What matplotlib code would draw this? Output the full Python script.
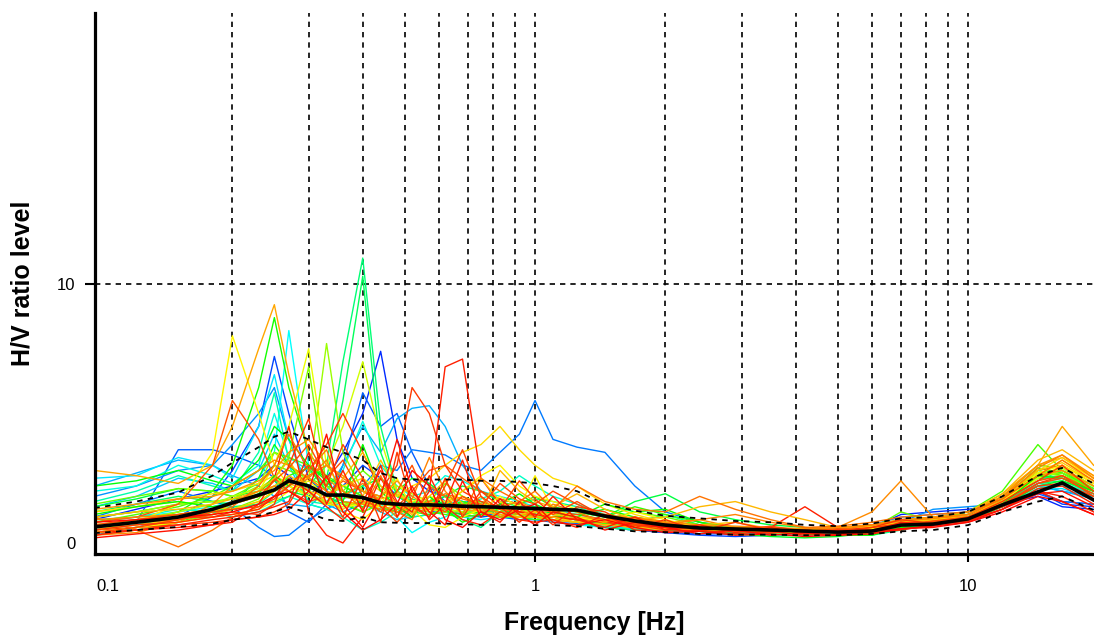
import numpy as np
import matplotlib
matplotlib.use("Agg")
import matplotlib.pyplot as plt
import matplotlib.transforms as mtransforms
from matplotlib.colors import hsv_to_rgb

# frequency samples [Hz]
freq = [0.096, 0.12, 0.15, 0.18, 0.2, 0.23, 0.25, 0.27, 0.3,
        0.33, 0.36, 0.4, 0.44, 0.48, 0.52, 0.57, 0.62, 0.68, 0.75, 0.83, 0.92,
        1.0, 1.1, 1.25, 1.45, 1.7, 2.0, 2.4, 2.9, 3.5, 4.2,
        5.0, 6.0, 7.0, 8.3, 10.0, 12.0, 14.5, 16.5, 19.5]

# average H/V curve and its +/- one standard deviation curves
hv_mean = [0.62, 0.8, 1.0, 1.3, 1.55, 1.85, 2.05, 2.4, 2.2,
           1.85, 1.85, 1.75, 1.55, 1.5, 1.47, 1.47, 1.45, 1.42, 1.4, 1.38, 1.35,
           1.33, 1.3, 1.27, 1.04, 0.85, 0.69, 0.58, 0.54, 0.5, 0.46,
           0.42, 0.46, 0.69, 0.73, 0.93, 1.47, 1.97, 2.32, 1.66]
hv_upper = [1.35, 1.6, 1.95, 2.6, 3.1, 3.7, 4.1, 4.3, 4.0,
            3.7, 3.5, 3.2, 2.7, 2.5, 2.45, 2.45, 2.45, 2.45, 2.4, 2.4, 2.35,
            2.3, 2.2, 2.0, 1.5, 1.25, 1.05, 0.95, 0.85, 0.8, 0.7,
            0.65, 0.75, 0.95, 1.0, 1.2, 1.8, 2.6, 2.9, 2.3]
hv_lower = [0.38, 0.5, 0.62, 0.75, 0.89, 1.05, 1.2, 1.39, 1.16,
            0.9, 0.85, 1.0, 0.8, 0.78, 0.77, 0.77, 0.75, 0.72, 0.7, 0.7, 0.7,
            0.69, 0.69, 0.65, 0.55, 0.45, 0.42, 0.35, 0.32, 0.32, 0.3,
            0.3, 0.35, 0.45, 0.5, 0.69, 1.2, 1.6, 1.8, 1.27]

# H/V curves of the single time windows
w01 = [0.9, 1.3, 1.7, 2.0, 2.2, 2.5, 3.0, 2.6, 1.8,
       2.5, 3.5, 5.0, 7.4, 4.0, 2.5, 2.0, 1.8, 1.6, 1.5, 1.3, 1.2,
       1.1, 1.0, 0.9, 0.7, 0.6, 0.55, 0.5, 0.45, 0.5, 0.45,
       0.5, 0.6, 1.1, 1.2, 1.3, 1.5, 1.8, 1.4, 1.3]
w02 = [0.3, 0.6, 1.0, 1.8, 2.8, 4.5, 7.2, 5.0, 2.5,
       1.8, 2.2, 3.0, 2.5, 1.8, 1.5, 1.2, 1.3, 1.1, 1.0, 1.1, 1.0,
       1.0, 0.9, 0.8, 0.6, 0.5, 0.4, 0.3, 0.25, 0.3, 0.4,
       0.5, 0.65, 0.9, 1.0, 1.2, 1.6, 2.0, 1.5, 1.4]
w03 = [0.5, 0.8, 3.6, 3.6, 3.4, 3.0, 2.5, 1.2, 0.8,
       1.5, 3.0, 5.8, 4.5, 5.0, 3.5, 2.2, 1.6, 1.3, 1.2, 1.0, 0.9,
       0.9, 0.8, 0.75, 0.6, 0.5, 0.4, 0.35, 0.35, 0.4, 0.4,
       0.45, 0.55, 0.8, 0.9, 1.1, 1.4, 1.9, 1.6, 1.5]
w04 = [1.0, 1.5, 2.0, 1.6, 1.4, 0.6, 0.25, 0.3, 0.9,
       1.3, 1.8, 2.2, 3.0, 2.8, 3.6, 3.5, 3.4, 3.0, 2.8, 3.5, 4.2,
       5.5, 4.0, 3.7, 3.5, 2.2, 1.2, 0.8, 0.6, 0.5, 0.5,
       0.55, 0.7, 1.0, 1.1, 1.2, 1.5, 2.0, 1.6, 1.5]
w05 = [1.8, 2.2, 2.8, 3.0, 3.8, 5.0, 6.0, 4.0, 2.0,
       1.5, 1.2, 1.5, 1.4, 1.3, 1.6, 1.4, 1.3, 1.2, 1.3, 1.2, 1.1,
       1.1, 1.0, 0.9, 0.75, 0.6, 0.55, 0.5, 0.5, 0.5, 0.45,
       0.5, 0.6, 0.8, 1.3, 1.4, 1.5, 2.2, 2.0, 1.8]
w06 = [2.2, 2.7, 3.2, 3.0, 2.6, 2.2, 1.8, 1.5, 1.4,
       2.0, 3.0, 4.5, 3.5, 4.8, 5.2, 5.3, 4.5, 3.0, 2.0, 1.7, 1.5,
       1.3, 1.2, 1.0, 0.8, 0.65, 0.6, 0.5, 0.45, 0.5, 0.5,
       0.5, 0.6, 0.75, 0.85, 1.0, 1.6, 2.2, 2.0, 1.7]
w07 = [1.4, 1.8, 2.5, 2.3, 2.0, 2.8, 4.2, 3.0, 1.5,
       1.3, 1.6, 1.5, 1.2, 0.9, 1.0, 1.1, 1.3, 1.2, 1.1, 1.0, 1.2,
       1.1, 1.0, 0.9, 0.7, 0.6, 0.5, 0.45, 0.45, 0.4, 0.4,
       0.45, 0.5, 0.65, 0.8, 0.95, 1.5, 2.3, 2.2, 1.9]
w08 = [2.5, 2.6, 3.3, 3.0, 2.5, 4.5, 6.5, 4.0, 2.0,
       1.5, 1.8, 1.6, 1.4, 1.2, 1.3, 1.4, 1.2, 1.0, 0.9, 1.0, 1.0,
       0.9, 0.9, 0.8, 0.65, 0.55, 0.5, 0.45, 0.4, 0.4, 0.4,
       0.45, 0.5, 0.7, 0.8, 0.9, 1.4, 2.1, 2.1, 1.7]
w09 = [0.9, 1.0, 1.2, 1.4, 1.6, 2.5, 3.5, 8.2, 3.0,
       2.0, 1.8, 2.2, 1.5, 1.0, 0.4, 0.8, 1.0, 1.4, 1.5, 1.3, 1.1,
       1.0, 0.8, 0.7, 0.6, 0.5, 0.5, 0.45, 0.35, 0.3, 0.3,
       0.35, 0.45, 0.6, 0.7, 0.9, 1.5, 2.3, 2.5, 2.1]
w10 = [2.0, 2.2, 3.0, 2.6, 2.3, 3.0, 5.0, 3.3, 2.8,
       2.2, 2.8, 4.7, 3.0, 2.2, 1.8, 2.0, 2.6, 2.4, 2.0, 1.8, 1.6,
       1.4, 1.3, 1.1, 0.9, 0.7, 0.55, 0.5, 0.45, 0.45, 0.45,
       0.5, 0.55, 0.7, 0.8, 0.95, 1.5, 2.2, 2.2, 1.8]
w11 = [0.8, 1.0, 1.3, 1.2, 1.0, 1.2, 1.5, 1.8, 1.5,
       1.3, 1.0, 0.5, 0.8, 1.2, 1.5, 1.3, 1.6, 1.5, 1.7, 2.0, 2.6,
       2.2, 1.8, 1.5, 1.1, 0.8, 0.7, 0.6, 0.5, 0.5, 0.5,
       0.5, 0.55, 0.7, 0.8, 0.9, 1.4, 2.1, 2.3, 1.9]
w12 = [1.6, 2.0, 2.6, 2.2, 2.0, 3.5, 5.8, 3.2, 1.6,
       1.5, 1.7, 2.0, 1.8, 1.5, 1.4, 1.6, 1.8, 1.6, 1.5, 1.4, 1.3,
       1.2, 1.1, 1.0, 0.9, 0.8, 0.6, 0.5, 0.45, 0.4, 0.4,
       0.4, 0.5, 0.7, 0.8, 1.0, 1.6, 2.5, 2.6, 2.0]
w13 = [0.5, 0.7, 1.0, 1.2, 1.3, 1.5, 2.0, 2.2, 1.8,
       1.5, 1.4, 1.6, 1.3, 1.2, 1.0, 1.1, 1.2, 0.9, 0.6, 1.2, 1.5,
       1.7, 1.6, 1.4, 1.0, 0.8, 1.1, 0.7, 0.5, 0.45, 0.4,
       0.4, 0.3, 0.5, 0.75, 0.95, 1.5, 2.4, 2.8, 2.2]
w14 = [0.6, 0.8, 1.0, 1.2, 1.4, 1.5, 1.6, 1.8, 2.2,
       3.0, 7.0, 11.0, 4.5, 2.0, 1.6, 1.4, 1.3, 1.2, 1.2, 1.1, 1.0,
       1.0, 0.9, 0.8, 0.6, 0.5, 0.5, 0.45, 0.4, 0.4, 0.4,
       0.4, 0.45, 0.6, 0.7, 0.9, 1.5, 2.3, 2.4, 1.9]
w15 = [1.2, 1.5, 1.8, 1.6, 1.5, 1.8, 2.2, 2.5, 2.0,
       2.5, 5.5, 10.3, 3.5, 1.8, 1.5, 1.6, 1.5, 1.3, 1.2, 1.2, 1.1,
       1.1, 1.0, 0.9, 0.7, 0.6, 0.55, 0.5, 0.45, 0.45, 0.45,
       0.5, 0.5, 0.65, 0.8, 1.0, 1.6, 2.5, 2.5, 2.0]
w16 = [1.4, 1.7, 2.1, 2.0, 1.8, 2.0, 2.4, 2.0, 1.8,
       1.6, 1.9, 2.2, 2.5, 2.0, 1.7, 1.5, 1.8, 2.2, 2.0, 1.6, 1.4,
       1.4, 1.3, 1.2, 1.0, 1.6, 1.9, 1.2, 0.9, 0.7, 0.6,
       0.5, 0.55, 0.7, 0.85, 1.0, 1.6, 2.6, 2.7, 2.1]
w17 = [0.4, 0.6, 0.8, 1.2, 1.5, 2.5, 3.8, 3.0, 2.2,
       1.8, 1.5, 1.2, 1.5, 2.0, 2.5, 2.3, 1.8, 1.5, 1.6, 1.3, 1.1,
       1.1, 1.2, 1.0, 0.8, 0.7, 0.6, 0.45, 0.35, 0.25, 0.2,
       0.25, 0.4, 0.55, 0.7, 0.85, 1.4, 2.2, 2.4, 2.0]
w18 = [2.2, 2.4, 2.8, 2.4, 2.2, 3.2, 4.5, 4.0, 3.0,
       2.5, 2.0, 1.5, 1.3, 1.2, 1.4, 1.5, 1.6, 1.4, 1.3, 1.2, 1.1,
       1.0, 1.0, 1.1, 1.3, 1.0, 0.8, 0.7, 0.55, 0.5, 0.45,
       0.45, 0.5, 0.6, 0.8, 1.0, 1.7, 2.8, 2.6, 2.0]
w19 = [0.6, 0.8, 1.2, 2.0, 3.0, 6.0, 8.7, 6.0, 3.5,
       2.5, 2.2, 1.8, 1.4, 1.2, 1.3, 1.4, 1.2, 1.1, 1.2, 1.3, 1.2,
       1.1, 1.0, 0.9, 0.8, 0.7, 0.6, 0.55, 0.5, 0.45, 0.45,
       0.45, 0.5, 0.7, 0.85, 1.0, 1.7, 2.9, 2.7, 2.0]
w20 = [1.0, 1.2, 1.5, 1.6, 1.7, 1.8, 2.0, 2.6, 2.9,
       2.0, 1.6, 1.4, 1.6, 1.5, 1.2, 1.1, 1.3, 1.6, 1.4, 1.2, 1.5,
       1.8, 1.4, 1.2, 1.0, 1.4, 1.1, 0.8, 0.6, 0.5, 0.45,
       0.5, 0.6, 0.8, 1.0, 1.1, 1.8, 3.0, 2.9, 2.2]
w21 = [0.8, 1.1, 1.4, 1.8, 2.2, 2.8, 3.5, 3.3, 3.0,
       2.6, 2.2, 1.8, 1.6, 1.4, 1.3, 1.2, 1.1, 1.0, 1.1, 1.0, 1.0,
       0.9, 1.0, 0.9, 0.75, 0.6, 0.55, 0.5, 0.5, 0.45, 0.45,
       0.5, 0.6, 0.75, 0.9, 1.2, 2.0, 3.8, 2.8, 2.0]
w22 = [1.5, 1.8, 2.1, 2.0, 1.8, 2.3, 3.0, 2.8, 2.5,
       2.2, 2.0, 2.8, 2.2, 1.8, 1.6, 1.5, 1.4, 1.5, 1.6, 1.4, 1.3,
       1.2, 1.1, 1.0, 0.9, 1.2, 1.0, 0.7, 0.55, 0.5, 0.5,
       0.5, 0.55, 1.2, 0.85, 1.0, 1.7, 2.7, 2.8, 2.1]
w23 = [0.3, 0.5, 0.8, 1.1, 1.3, 1.7, 2.5, 3.3, 6.8,
       2.2, 1.6, 1.2, 1.5, 1.4, 1.3, 1.6, 2.3, 1.8, 1.5, 1.3, 1.2,
       1.1, 1.0, 0.9, 0.8, 0.7, 0.6, 0.55, 0.5, 0.45, 0.45,
       0.45, 0.5, 0.65, 0.8, 0.95, 1.6, 2.6, 2.7, 2.0]
w24 = [1.0, 1.2, 1.5, 1.6, 1.7, 2.2, 3.5, 3.0, 2.5,
       7.7, 3.5, 2.0, 1.6, 1.4, 1.5, 1.3, 1.2, 1.2, 1.1, 1.0, 1.1,
       1.0, 1.0, 0.9, 0.8, 0.7, 0.6, 0.5, 0.5, 0.5, 0.45,
       0.45, 0.5, 0.7, 0.85, 1.0, 1.7, 2.7, 2.6, 2.0]
w25 = [0.6, 0.9, 1.2, 1.5, 1.8, 2.1, 2.5, 2.2, 1.9,
       1.6, 1.5, 1.5, 1.8, 2.2, 1.9, 1.6, 1.3, 1.2, 1.3, 1.4, 1.3,
       1.2, 1.1, 1.0, 0.9, 0.8, 0.65, 0.55, 0.5, 0.5, 0.5,
       0.5, 0.6, 0.75, 0.9, 1.0, 1.6, 2.5, 2.8, 2.2]
w26 = [1.2, 1.4, 1.6, 1.4, 1.3, 1.6, 2.0, 2.4, 2.6,
       3.0, 4.5, 7.0, 4.0, 2.0, 1.5, 1.3, 1.2, 1.3, 1.2, 1.1, 1.0,
       1.0, 0.9, 0.8, 0.7, 0.65, 0.6, 0.5, 0.5, 0.45, 0.45,
       0.45, 0.5, 0.65, 0.8, 1.0, 1.6, 2.6, 2.9, 2.2]
w27 = [0.7, 0.9, 1.1, 1.3, 1.5, 2.0, 3.0, 4.5, 7.5,
       3.0, 2.0, 1.6, 1.5, 1.4, 1.3, 1.4, 1.5, 1.3, 1.2, 1.1, 1.0,
       1.0, 0.9, 0.8, 0.7, 0.6, 0.55, 0.5, 0.45, 0.4, 0.4,
       0.45, 0.5, 0.65, 0.8, 1.0, 1.6, 2.5, 3.0, 2.4]
w28 = [0.5, 0.8, 1.5, 3.5, 8.0, 5.0, 3.0, 2.2, 1.8,
       1.5, 1.4, 1.5, 1.4, 1.3, 1.6, 1.8, 1.6, 2.0, 2.6, 3.0, 2.2,
       1.8, 1.6, 1.3, 1.0, 0.8, 0.65, 0.55, 0.5, 0.5, 0.45,
       0.5, 0.55, 0.7, 0.85, 1.0, 1.6, 2.6, 3.2, 2.5]
w29 = [1.2, 1.4, 1.7, 1.9, 2.0, 2.3, 2.6, 2.3, 2.0,
       1.8, 2.2, 2.5, 2.0, 1.8, 2.2, 2.5, 3.0, 3.5, 3.8, 4.5, 3.6,
       3.0, 2.5, 2.2, 1.5, 1.1, 0.8, 0.65, 0.55, 0.5, 0.5,
       0.5, 0.6, 0.75, 0.9, 1.0, 1.7, 2.8, 3.3, 2.6]
w30 = [0.4, 0.6, 0.9, 1.1, 1.3, 1.6, 2.0, 2.3, 2.5,
       2.0, 1.8, 1.6, 1.7, 1.9, 1.5, 1.3, 1.5, 1.8, 1.5, 1.3, 1.2,
       1.2, 1.1, 1.0, 0.9, 0.75, 0.65, 0.55, 0.5, 0.5, 0.5,
       0.5, 0.6, 0.8, 0.95, 1.1, 1.8, 3.0, 3.3, 2.5]
w31 = [2.8, 2.6, 2.3, 3.0, 4.5, 7.5, 9.2, 6.5, 3.5,
       2.5, 2.0, 1.6, 1.4, 1.3, 1.4, 1.6, 1.4, 1.3, 1.2, 1.1, 1.0,
       1.0, 0.9, 0.8, 0.7, 0.6, 0.55, 0.5, 0.5, 0.5, 0.5,
       0.5, 0.6, 0.75, 0.9, 1.1, 1.9, 3.0, 4.5, 3.0]
w32 = [0.3, 0.4, 0.8, 1.5, 2.2, 2.8, 3.2, 3.0, 2.5,
       2.0, 1.6, 1.5, 1.3, 1.2, 1.2, 1.3, 1.5, 1.4, 1.3, 1.2, 1.1,
       1.1, 1.0, 0.9, 0.8, 0.75, 0.8, 0.9, 0.6, 0.55, 0.55,
       0.6, 1.2, 2.4, 1.0, 1.0, 1.7, 2.6, 2.8, 2.2]
w33 = [1.0, 0.5, -0.15, 0.5, 1.0, 1.4, 1.8, 2.2, 2.6,
       3.0, 2.5, 2.0, 1.8, 1.5, 1.4, 1.6, 1.9, 1.7, 1.5, 1.3, 1.2,
       1.1, 1.0, 0.95, 0.9, 1.0, 0.8, 0.6, 0.55, 0.5, 0.5,
       0.5, 0.55, 0.7, 0.85, 1.0, 1.8, 2.8, 3.0, 2.3]
w34 = [0.8, 1.0, 1.5, 3.0, 5.5, 4.0, 2.5, 2.0, 1.6,
       1.8, 2.4, 2.0, 1.6, 1.4, 2.0, 2.8, 3.0, 2.5, 2.0, 1.7, 1.5,
       1.3, 1.2, 1.1, 0.9, 0.75, 0.65, 0.6, 0.55, 0.5, 0.5,
       0.5, 0.6, 0.75, 0.9, 1.0, 1.6, 2.4, 2.6, 2.0]
w35 = [0.5, 0.6, 0.7, 0.8, 0.9, 1.0, 1.2, 1.5, 2.8,
       3.8, 5.0, 3.5, 2.0, 3.0, 6.0, 5.0, 3.0, 2.0, 1.6, 1.4, 1.2,
       1.1, 1.0, 0.9, 0.8, 0.7, 0.6, 0.55, 0.5, 0.45, 0.5,
       0.5, 0.6, 0.75, 0.9, 1.0, 1.5, 2.2, 2.3, 1.8]
w36 = [0.4, 0.5, 0.6, 0.7, 0.8, 1.5, 2.5, 4.5, 1.2,
       0.3, 0.0, 1.0, 2.5, 1.5, 1.0, 2.0, 6.8, 7.1, 2.5, 1.5, 1.2,
       1.1, 1.0, 0.9, 0.8, 0.7, 0.6, 0.55, 0.5, 0.6, 1.4,
       0.6, 0.55, 0.7, 0.85, 0.95, 1.4, 2.0, 1.8, 1.2]

# further windows, mostly in the warm part of the colour scale
x01 = [0.3, 0.5, 0.7, 0.9, 1.0, 1.2, 1.4, 1.6, 3.5,
       1.5, 2.8, 1.2, 3.0, 1.0, 2.2, 0.9, 1.5, 3.2, 1.2, 0.8, 1.6,
       1.0, 1.8, 0.9, 0.6, 1.0, 0.5, 0.7, 0.4, 0.6, 0.35,
       0.5, 0.45, 0.8, 0.7, 0.9, 1.3, 2.0, 1.6, 1.1]
x02 = [0.5, 0.7, 0.8, 1.0, 1.2, 1.1, 1.5, 3.0, 4.8,
       2.0, 1.0, 2.5, 0.8, 3.5, 1.5, 1.0, 2.5, 1.0, 2.0, 1.4, 0.8,
       1.3, 0.7, 1.4, 1.2, 0.6, 0.9, 0.45, 0.8, 0.5, 0.5,
       0.4, 0.6, 0.9, 0.75, 1.0, 1.6, 2.4, 3.0, 2.0]
x03 = [0.6, 0.8, 0.9, 1.1, 1.4, 2.2, 3.0, 4.2, 2.8,
       3.6, 2.0, 1.3, 2.6, 1.2, 0.9, 2.2, 1.8, 1.1, 2.5, 2.0, 1.6,
       2.0, 1.3, 2.2, 1.6, 1.3, 1.2, 1.8, 1.3, 0.9, 0.6,
       0.65, 0.8, 1.0, 1.1, 1.2, 1.7, 2.6, 3.2, 2.4]
x04 = [0.2, 0.35, 0.5, 0.7, 0.9, 1.0, 1.1, 1.3, 2.0,
       4.2, 1.5, 0.6, 1.8, 4.0, 2.0, 1.2, 0.7, 2.4, 1.0, 1.7, 1.1,
       0.7, 1.2, 1.0, 0.5, 0.8, 0.6, 0.35, 0.5, 0.3, 0.4,
       0.3, 0.45, 0.55, 0.6, 0.8, 1.3, 1.9, 2.0, 1.4]
x05 = [0.7, 0.9, 1.1, 1.3, 1.5, 1.8, 2.4, 2.9, 3.8,
       2.5, 3.2, 1.8, 1.2, 2.0, 3.0, 1.5, 1.2, 1.8, 1.4, 2.3, 1.7,
       1.5, 2.0, 1.5, 1.0, 0.7, 0.75, 0.6, 0.5, 0.65, 0.45,
       0.55, 0.5, 0.7, 0.85, 1.0, 1.5, 2.3, 2.5, 1.9]
x06 = [1.0, 1.2, 1.3, 1.5, 1.7, 2.0, 2.5, 3.2, 2.0,
       1.5, 2.5, 3.5, 2.2, 1.5, 1.1, 1.8, 2.4, 1.5, 1.2, 2.8, 2.0,
       1.6, 1.4, 1.9, 1.3, 0.9, 1.0, 1.4, 1.6, 1.2, 0.9,
       0.6, 0.7, 0.9, 1.0, 1.2, 1.9, 3.2, 3.6, 2.8]
x07 = [0.4, 0.6, 0.8, 1.0, 1.1, 1.3, 1.6, 2.0, 2.4,
       1.8, 1.2, 0.9, 1.5, 2.5, 1.3, 0.7, 0.6, 1.0, 1.3, 1.8, 1.4,
       2.6, 1.3, 1.0, 0.8, 1.2, 0.9, 0.6, 0.55, 0.4, 0.4,
       0.45, 0.55, 0.65, 0.9, 1.0, 1.6, 2.7, 3.0, 2.3]
x08 = [1.1, 1.4, 1.6, 1.4, 1.5, 1.9, 2.6, 2.2, 3.0,
       2.4, 1.6, 3.8, 2.0, 1.4, 1.0, 1.8, 1.3, 0.8, 1.1, 1.5, 1.9,
       1.5, 1.2, 1.0, 1.5, 1.2, 1.3, 0.8, 0.5, 0.45, 0.35,
       0.3, 0.3, 0.6, 0.75, 0.9, 1.5, 2.6, 2.5, 2.0]
x09 = [0.6, 0.8, 1.0, 1.0, 1.1, 1.3, 1.8, 2.5, 2.0,
       1.4, 0.9, 1.6, 2.8, 1.6, 1.2, 2.6, 1.4, 0.9, 0.7, 1.2, 0.9,
       0.8, 0.9, 0.6, 1.1, 0.5, 0.45, 0.5, 0.35, 0.45, 0.3,
       0.35, 0.4, 0.5, 0.7, 0.85, 1.3, 2.1, 2.2, 1.5]
x10 = [0.9, 1.0, 1.1, 1.3, 1.6, 2.0, 2.2, 2.0, 2.5,
       3.2, 1.8, 2.3, 1.6, 1.0, 1.7, 3.3, 2.0, 1.3, 1.8, 1.0, 1.3,
       1.0, 1.5, 1.2, 0.8, 1.0, 0.7, 0.9, 1.1, 0.8, 0.6,
       0.5, 0.7, 0.85, 0.95, 1.1, 1.7, 2.9, 3.4, 2.5]
x11 = [0.4, 0.6, 0.9, 1.2, 1.3, 1.4, 1.7, 2.2, 3.0,
       2.2, 3.8, 2.5, 1.4, 0.8, 1.4, 1.0, 2.2, 3.6, 1.8, 1.3, 2.4,
       1.7, 1.1, 1.6, 1.0, 0.7, 0.5, 0.6, 0.45, 0.4, 0.5,
       0.4, 0.5, 0.75, 0.8, 0.95, 1.4, 2.3, 2.6, 1.8]
x12 = [0.5, 0.7, 0.9, 1.2, 1.5, 1.8, 2.2, 2.6, 2.2,
       1.6, 1.3, 1.8, 3.2, 2.0, 1.5, 1.2, 1.5, 2.0, 2.5, 1.6, 1.1,
       1.2, 1.0, 0.8, 0.9, 0.6, 0.5, 0.7, 0.8, 0.55, 0.5,
       0.55, 0.65, 0.8, 0.9, 1.0, 1.7, 2.8, 3.1, 2.4]
x13 = [0.8, 0.9, 1.0, 1.1, 1.2, 1.5, 1.8, 2.0, 1.5,
       2.6, 1.2, 0.5, 0.9, 1.5, 2.8, 2.2, 0.9, 0.6, 1.2, 0.9, 1.3,
       1.5, 0.8, 0.7, 0.9, 0.6, 0.4, 0.45, 0.3, 0.35, 0.25,
       0.3, 0.35, 0.55, 0.65, 0.8, 1.2, 1.8, 1.6, 1.1]
x14 = [1.3, 1.5, 1.7, 1.8, 2.0, 2.4, 2.8, 3.5, 4.0,
       3.0, 2.6, 2.0, 1.8, 2.4, 1.8, 1.4, 1.3, 1.5, 1.2, 1.4, 1.6,
       1.3, 1.2, 1.3, 1.1, 0.95, 0.8, 0.7, 0.65, 0.6, 0.55,
       0.6, 0.7, 0.9, 1.0, 1.1, 1.8, 3.0, 3.4, 2.6]

windows = [w01, w02, w03, w04, w05, w06, w07, w08, w09, w10, w11, w12,
           w13, w14, w15, w16, w17, w18, w19, w20, w21, w22, w23, w24,
           w25, w26, w27, w28, w29, w30, w31, w32, w33, w34, w35, w36]
extra_windows = [x08, x07, x12, x06, x14, x10, x03, x05, x11, x02,
                 x09, x01, x04, x13]
extra_hues = [0.33, 0.16, 0.13, 0.12, 0.095, 0.085, 0.075, 0.05, 0.045,
              0.035, 0.025, 0.02, 0.012, 0.005]

grid_freqs = [0.2, 0.3, 0.4, 0.5, 0.6, 0.7, 0.8, 0.9, 1,
              2, 3, 4, 5, 6, 7, 8, 9, 10]

fig = plt.figure(figsize=(10.94, 6.37), dpi=100)
ax = fig.add_axes([0.0868, 0.1303, 0.9132, 0.8493])
ax.set_xscale("log")

grid_style = dict(color="black", lw=1.2, ls=(0, (3.2, 3.0)), zorder=0)
for f in grid_freqs:
    ax.axvline(f, **grid_style)
ax.axhline(10, **grid_style)

# one colour per window, blue -> red
hues = np.linspace(0.64, 0.02, len(windows))
for h, w in zip(hues, windows):
    ax.plot(freq, w, color=hsv_to_rgb([h, 1.0, 1.0]), lw=1.0, zorder=2)
for h, w in zip(extra_hues, extra_windows):
    ax.plot(freq, w, color=hsv_to_rgb([h, 1.0, 1.0]), lw=1.0, zorder=2)

ax.plot(freq, hv_upper, color="black", lw=1.3, ls=(0, (3, 3)), zorder=3)
ax.plot(freq, hv_lower, color="black", lw=1.3, ls=(0, (3, 3)), zorder=3)
ax.plot(freq, hv_mean, color="black", lw=2.6, zorder=4)

ax.set_xlim(0.0963, 19.54)
ax.set_ylim(-0.425, 20.46)

ax.set_xticks([0.1, 1, 10])
ax.set_xticklabels(["0.1", "1", "10"])
ax.xaxis.set_minor_locator(matplotlib.ticker.NullLocator())
ax.set_yticks([0, 10])
ax.set_yticklabels(["0", "10"])

tick_font = "Liberation Sans"
ax.tick_params(axis="x", length=6, width=1.5, pad=12, labelsize=12)
ax.tick_params(axis="y", length=7, width=1.5, pad=7, labelsize=12)
for lab in ax.get_xticklabels() + ax.get_yticklabels():
    lab.set_fontfamily(tick_font)

# no tick mark at the axis corner; nudge the 0.1 label off the spine
first_x = ax.xaxis.get_major_ticks()[0]
first_x.tick1line.set_visible(False)
first_x.label1.set_transform(first_x.label1.get_transform() +
                             mtransforms.ScaledTranslation(0.06, 0, fig.dpi_scale_trans))
ax.yaxis.get_major_ticks()[0].tick1line.set_visible(False)

for side in ["top", "right"]:
    ax.spines[side].set_visible(False)
for side in ["left", "bottom"]:
    ax.spines[side].set_linewidth(2.3)

ax.set_xlabel("Frequency [Hz]", fontsize=18, fontweight="bold",
              family="Liberation Sans", labelpad=12)
ax.set_ylabel("H/V ratio level", fontsize=18, fontweight="bold",
              family="Liberation Sans", labelpad=16)

plt.savefig("out.png", dpi=100)
